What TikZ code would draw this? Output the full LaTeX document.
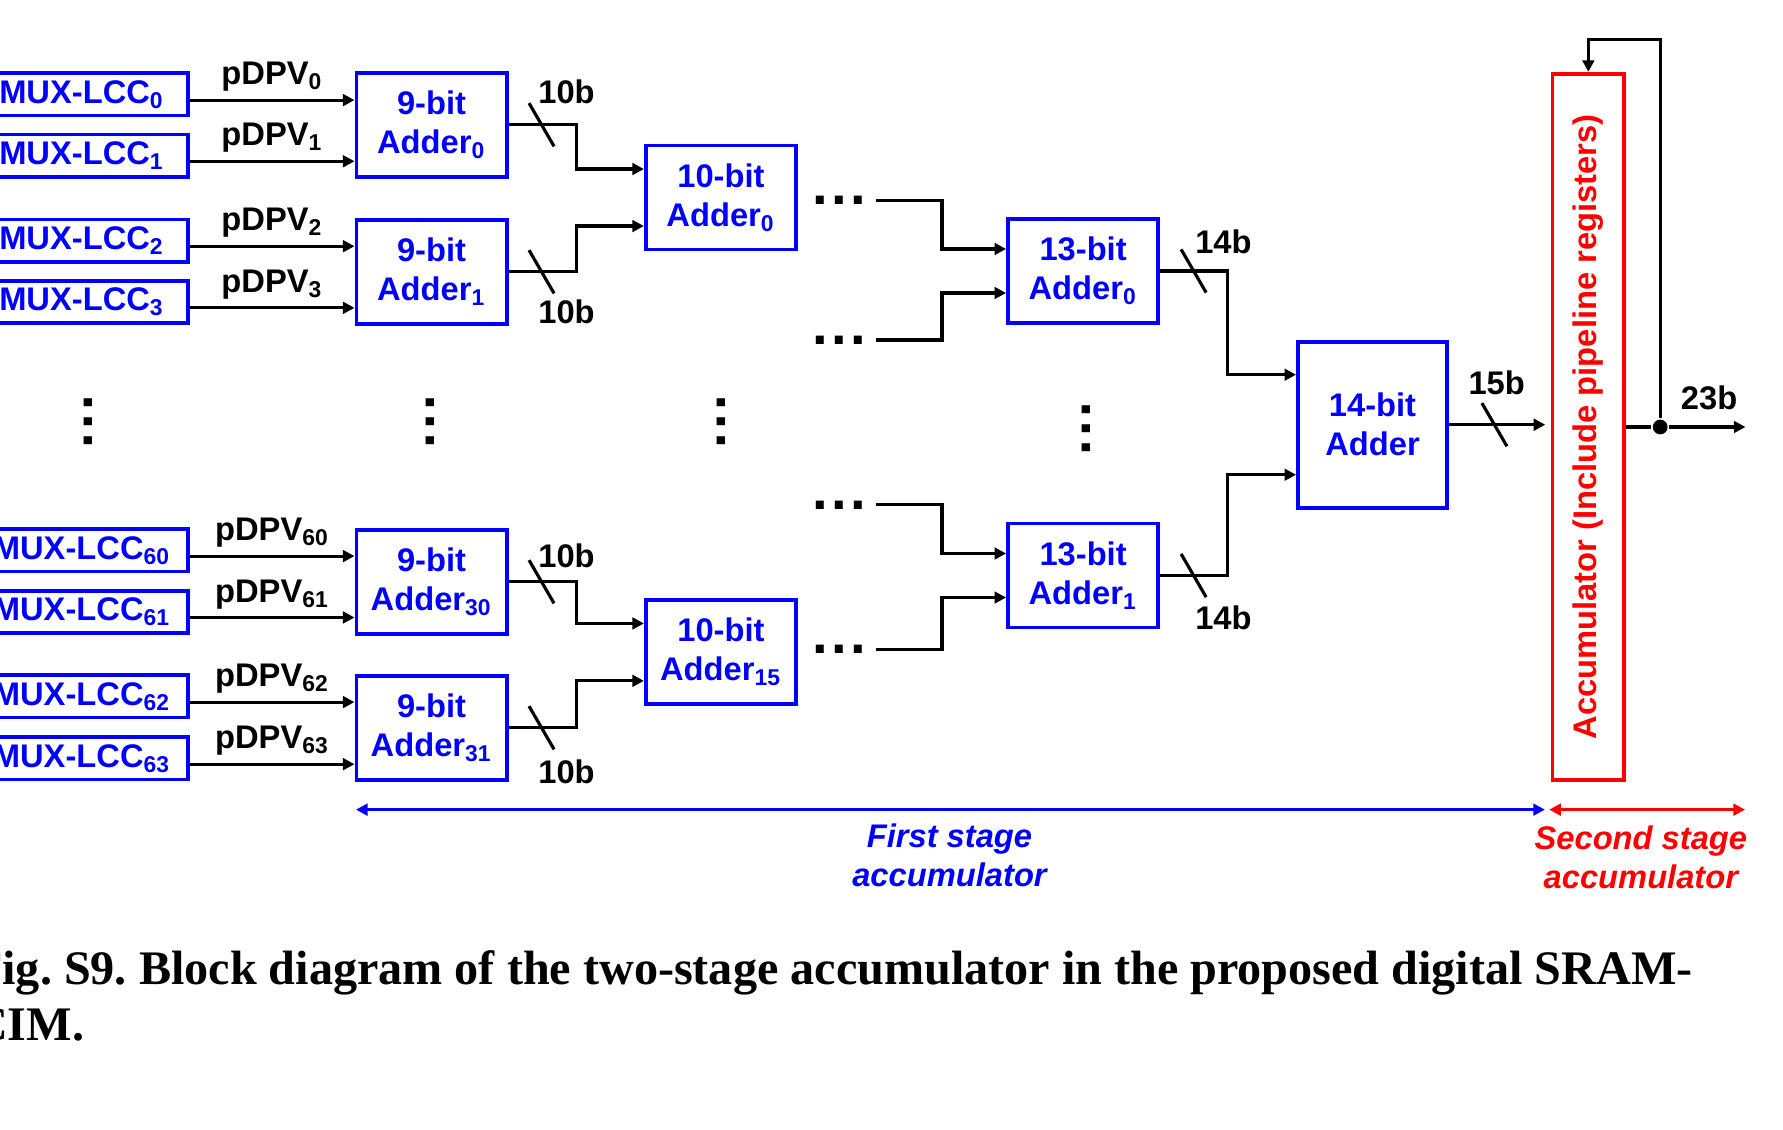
\documentclass[tikz,border=0pt]{standalone}
\usepackage{fontspec}
\usepackage{graphicx}
\setmainfont{Liberation Serif}
\setsansfont{Liberation Sans}
\usetikzlibrary{arrows.meta}
\definecolor{addblue}{RGB}{0,0,255}
\definecolor{accred}{RGB}{255,0,0}
\begin{document}
\begin{tikzpicture}[x=0.01137cm,y=-0.01137cm,line width=0.9pt,
    >={Triangle[length=3.3pt,width=3.3pt]},
    blk/.style={draw=addblue,line width=1.1pt,text=addblue,align=center,inner sep=0pt,
      font=\fontsize{9.3}{11.1}\selectfont\sffamily\bfseries},
    mux/.style={blk,minimum width=2.126cm,minimum height=0.421cm},
    adder/.style={blk,minimum width=1.501cm,minimum height=1.040cm},
    bigadder/.style={blk,minimum width=1.489cm,minimum height=1.660cm},
    accum/.style={blk,draw=accred,text=accred,minimum width=0.716cm,minimum height=7.061cm},
    lbl/.style={inner sep=0pt,font=\fontsize{9.3}{11.1}\selectfont\sffamily\bfseries},
    hdots/.style={inner sep=0pt,font=\fontsize{16}{16}\selectfont\sffamily\bfseries},
    vdots/.style={hdots,rotate=90},
    junction/.style={circle,fill,inner sep=0pt,minimum size=4.2pt},
    stage/.style={inner sep=0pt,align=center,font=\fontsize{9.3}{11.1}\selectfont\sffamily\bfseries\itshape},
    figcap/.style={inner sep=0pt,anchor=base west,font=\fontsize{13.7}{16}\selectfont\rmfamily\bfseries\frenchspacing}]
  \useasboundingbox (0,0) rectangle (1568,993);
  \path
    (72,83) node[mux] (m0) {MUX-LCC\textsubscript{0}}
    (72,136.8) node[mux] (m1) {MUX-LCC\textsubscript{1}}
    (72,211.5) node[mux] (m2) {MUX-LCC\textsubscript{2}}
    (72,265.7) node[mux] (m3) {MUX-LCC\textsubscript{3}}
    (72,484) node[mux] (m60) {MUX-LCC\textsubscript{60}}
    (72,538) node[mux] (m61) {MUX-LCC\textsubscript{61}}
    (72,612.4) node[mux] (m62) {MUX-LCC\textsubscript{62}}
    (72,667) node[mux] (m63) {MUX-LCC\textsubscript{63}}
    (379.5,109.7) node[adder] (a0) {9-bit\\Adder\textsubscript{0}}
    (379.5,239) node[adder] (a1) {9-bit\\Adder\textsubscript{1}}
    (379.5,511.6) node[adder] (a30) {9-bit\\Adder\textsubscript{30}}
    (379.5,640) node[adder] (a31) {9-bit\\Adder\textsubscript{31}}
    (634,173.7) node[adder] (b0) {10-bit\\Adder\textsubscript{0}}
    (634,573.5) node[adder] (b15) {10-bit\\Adder\textsubscript{15}}
    (952.5,238.3) node[adder] (c0) {13-bit\\Adder\textsubscript{0}}
    (952.5,506.1) node[adder] (c1) {13-bit\\Adder\textsubscript{1}}
    (1207,373.5) node[bigadder] (d0) {14-bit\\Adder}
    (1396.8,375.5) node[accum] (acc) {\rotatebox{90}{Accumulator (Include pipeline registers)}}
    (1460,375.5) node[junction] (j) {}
    (1535,375.5) coordinate (out)
    (738,176) node[hdots] (h0) {.\kern1pt.\kern1pt.}
    (738,299) node[hdots] (h1) {.\kern1pt.\kern1pt.}
    (738,444) node[hdots] (h2) {.\kern1pt.\kern1pt.}
    (738,571) node[hdots] (h3) {.\kern1pt.\kern1pt.}
    (78,371) node[vdots] (v0) {.\kern1pt.\kern1pt.}
    (378,371) node[vdots] (v1) {.\kern1pt.\kern1pt.}
    (634.6,370.7) node[vdots] (v2) {.\kern1pt.\kern1pt.}
    (955,377) node[vdots] (v3) {.\kern1pt.\kern1pt.}
    (313,712) coordinate (s0)
    (1358.6,712) coordinate (s1)
    (1362.4,712) coordinate (s2)
    (1534.6,712) coordinate (s3);
  % bus widths
  \node[lbl] (w0) at ([shift={(51,-29)}]a0.east) {10b};
  \node[lbl] (w1) at ([shift={(51,35)}]a1.east) {10b};
  \node[lbl] (w2) at ([shift={(51,-23)}]a30.east) {10b};
  \node[lbl] (w3) at ([shift={(51,39)}]a31.east) {10b};
  \node[lbl] (w4) at ([shift={(55.7,-26)}]c0.east) {14b};
  \node[lbl] (w5) at ([shift={(55.7,37.6)}]c1.east) {14b};
  \node[lbl] (w6) at ([shift={(42,-36.5)}]d0.east) {15b};
  \node[lbl] (w7) at (1503,350) {23b};
  \draw ([xshift=0.33cm]a0.east) +(-11,-19) -- +(11,19);
  \draw ([xshift=0.33cm]a1.east) +(-11,-19) -- +(11,19);
  \draw ([xshift=0.33cm]a30.east) +(-11,-19) -- +(11,19);
  \draw ([xshift=0.33cm]a31.east) +(-11,-19) -- +(11,19);
  \draw ([xshift=0.335cm]c0.east) +(-11,-19) -- +(11,19);
  \draw ([xshift=0.335cm]c1.east) +(-11,-19) -- +(11,19);
  \draw ([xshift=0.455cm]d0.east) +(-11,-19) -- +(11,19);
  \begin{scope}[->]
    \draw ([yshift=-0.057cm]m0.east) -- ([yshift=-0.057cm]m0.east -| a0.west) node[midway,above=2pt,lbl] (p0) {pDPV\textsubscript{0}};
    \draw ([yshift=-0.057cm]m1.east) -- ([yshift=-0.057cm]m1.east -| a0.west) node[midway,above=2pt,lbl] (p1) {pDPV\textsubscript{1}};
    \draw ([yshift=-0.057cm]m2.east) -- ([yshift=-0.057cm]m2.east -| a1.west) node[midway,above=2pt,lbl] (p2) {pDPV\textsubscript{2}};
    \draw ([yshift=-0.057cm]m3.east) -- ([yshift=-0.057cm]m3.east -| a1.west) node[midway,above=2pt,lbl] (p3) {pDPV\textsubscript{3}};
    \draw ([yshift=-0.057cm]m60.east) -- ([yshift=-0.057cm]m60.east -| a30.west) node[midway,above=2pt,lbl] (p60) {pDPV\textsubscript{60}};
    \draw ([yshift=-0.057cm]m61.east) -- ([yshift=-0.057cm]m61.east -| a30.west) node[midway,above=2pt,lbl] (p61) {pDPV\textsubscript{61}};
    \draw ([yshift=-0.057cm]m62.east) -- ([yshift=-0.057cm]m62.east -| a31.west) node[midway,above=2pt,lbl] (p62) {pDPV\textsubscript{62}};
    \draw ([yshift=-0.057cm]m63.east) -- ([yshift=-0.057cm]m63.east -| a31.west) node[midway,above=2pt,lbl] (p63) {pDPV\textsubscript{63}};
    \draw (a0.east) -- ++(59.5,0) |- ([yshift=0.285cm]b0.west);
    \draw (a1.east) -- ++(59.5,0) |- ([yshift=-0.285cm]b0.west);
    \draw (a30.east) -- ++(59.5,0) |- ([yshift=0.287cm]b15.west);
    \draw (a31.east) -- ++(59.5,0) |- ([yshift=-0.287cm]b15.west);
    \draw ([xshift=0.078cm]h0.east) -- ++(58.4,0) |- ([yshift=0.22cm]c0.west);
    \draw ([xshift=0.078cm]h1.east) -- ++(58.4,0) |- ([yshift=-0.22cm]c0.west);
    \draw ([xshift=0.078cm]h2.east) -- ++(58.4,0) |- ([yshift=0.22cm]c1.west);
    \draw ([xshift=0.078cm]h3.east) -- ++(58.4,0) |- ([yshift=-0.22cm]c1.west);
    \draw (c0.east) -- ++(59.5,0) |- ([yshift=0.5cm]d0.west);
    \draw (c1.east) -- ++(59.5,0) |- ([yshift=-0.5cm]d0.west);
    \draw[shorten >=1.5pt] (d0.east) -- (d0.east -| acc.west);
    \draw (j) -- (out);
    \draw (j) -- ++(0,-340.5) -| (acc.north);
    \draw[<->,addblue] (s0) -- (s1);
    \draw[<->,accred] (s2) -- (s3);
  \end{scope}
  \draw (acc.east) -- (j);
  \node[stage,text=addblue] (t0) at (835,752.5) {First stage\\accumulator};
  \node[stage,text=accred] (t1) at (1443,754) {Second stage\\accumulator};
  \node[figcap] (f0) at (-25,866) {Fig. S9. Block diagram of the two-stage accumulator in the proposed digital SRAM-};
  \node[figcap] (f1) at (-25,915) {CIM.};
\end{tikzpicture}
\end{document}
